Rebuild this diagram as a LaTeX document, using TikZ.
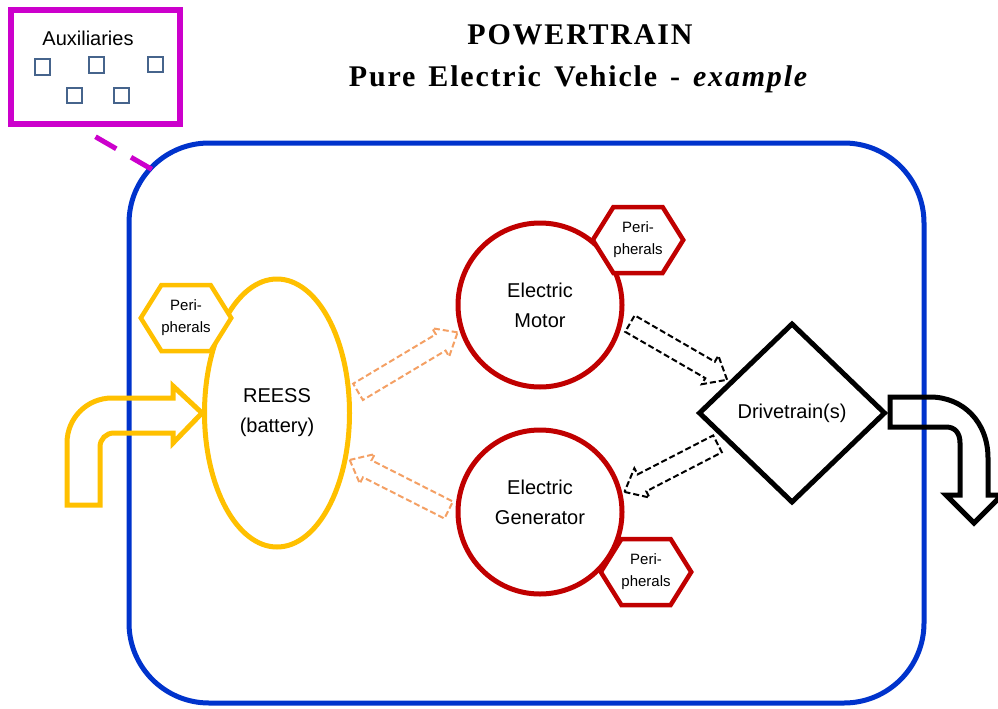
\documentclass[tikz,border=0pt]{standalone}
\usepackage{fontspec}
\setmainfont{Liberation Sans}
\newfontfamily\titlefont{Liberation Serif}[LetterSpace=6,WordSpace=1.4]
\usetikzlibrary{shapes.geometric,shapes.arrows,shapes.symbols,calc}

\definecolor{ptblue}{RGB}{0,51,204}
\definecolor{auxmagenta}{RGB}{204,0,204}
\definecolor{itemgrey}{RGB}{70,100,140}
\definecolor{reessgold}{RGB}{255,192,0}
\definecolor{machred}{RGB}{192,0,0}
\definecolor{flowor}{RGB}{244,160,100}

\newcommand{\hollowflow}[3]{%
  \path let \p1=($(#2)!2pt!(#3)$), \p2=($(#3)!8pt!(#2)$), \p3=($(\p2)-(\p1)$),
    \n1={atan2(\y3,\x3)}, \n2={veclen(\x3,\y3)} in
    node[#1, rotate=\n1, minimum height=\n2] at ($(\p1)!0.5!(\p2)$) {};}

\begin{document}
\begin{tikzpicture}[x=1pt, y=-1pt,
                    every node/.style={font=\fontsize{20}{30}\selectfont},
                    frame/.style={draw=ptblue, line width=5pt, rounded corners=80pt,
                                  minimum width=795pt, minimum height=560pt},
                    auxframe/.style={draw=auxmagenta, line width=5.5pt,
                                     minimum width=169pt, minimum height=114pt},
                    auxitem/.style={draw=itemgrey, line width=2pt, minimum size=15pt, inner sep=0pt},
                    auxlink/.style={auxmagenta, line width=5pt, dash pattern=on 24pt off 17pt},
                    battery/.style={ellipse, draw=reessgold, line width=5pt, align=center,
                                    minimum width=145pt, minimum height=268pt},
                    machine/.style={circle, draw=machred, line width=5pt, align=center,
                                    minimum size=164pt},
                    gearbox/.style={diamond, draw, line width=5pt, inner sep=0pt,
                                    minimum width=187pt, minimum height=180pt},
                    periph/.style={signal, signal to=west and east, signal pointer angle=116,
                                   draw=#1, fill=white, line width=4.5pt, align=center,
                                   minimum width=86pt, minimum height=66pt, inner sep=0pt,
                                   font=\fontsize{15}{22}\selectfont},
                    flow/.style={single arrow, draw=#1, line width=2pt, dash pattern=on 6pt off 3pt,
                                 inner xsep=0pt, inner ysep=8.5pt, text height=0pt, text depth=0pt,
                                 single arrow head extend=7pt, single arrow tip angle=80},
                    heading/.style={font=\titlefont\bfseries\fontsize{30}{36}\selectfont},
                ]
                \useasboundingbox (0,0) rectangle (998,709);

                \node[frame] (powertrain) at (526.5,423) {};

                \node[auxframe] (aux) at (95.5,67) {};
                \node at (88,38) {Auxiliaries};
                \node[auxitem] (aux1) at (42.5,67) {};
                \node[auxitem] (aux2) at (96.5,65) {};
                \node[auxitem] (aux3) at (155,64.5) {};
                \node[auxitem] (aux4) at (74,95) {};
                \node[auxitem] (aux5) at (121,95) {};
                \coordinate (auxjoin) at (153,170);
                \draw[auxlink] ([yshift=-10pt]aux.south) -- (auxjoin);

                \node[battery] (reess) at (277,413) {REESS\\(battery)};
                \node[machine] (motor) at (540,305) {Electric\\Motor};
                \node[machine, text depth=20pt] (gen) at (540,512) {Electric\\Generator};
                \node[gearbox] (drive) at (792,413) {Drivetrain(s)};

                \node[periph=reessgold] (rperi) at (186,318) {Peri-\\pherals};
                \node[periph=machred] (mperi) at (638,240) {Peri-\\pherals};
                \node[periph=machred] (gperi) at (646,572) {Peri-\\pherals};

                \hollowflow{flow=flowor}{reess.13}{motor.198}
                \hollowflow{flow=flowor}{gen.181}{reess.-33}
                \hollowflow{flow=black}{motor.-10}{drive.153}
                \hollowflow{flow=black}{drive.202}{gen.13}

                \draw[reessgold, line width=5pt] (100,505) -- (67,505) -- (67,443)
                    .. controls (67,418) and (87,398) .. (112,398) -- (173,398) -- (173,386)
                    -- (reess.west) -- (173,443) -- (173,433) -- (114,433)
                    .. controls (106,433) and (100,439) .. (100,447) -- cycle;
                \draw[line width=5pt] (890,397) -- (930,397)
                    .. controls (963,397) and (988,422) .. (988,458) -- (988,495) -- (1002,495)
                    -- (974,523) -- (946,495) -- (960,495) -- (960,443)
                    .. controls (960,433) and (955,427) .. (946,427) -- (890,427) -- cycle;

                \node[heading] (title) at (580,35) {POWERTRAIN};
                \node[heading] (subtitle) at (579,79) {Pure Electric Vehicle - \textit{example}};
                \end{tikzpicture}
\end{document}
